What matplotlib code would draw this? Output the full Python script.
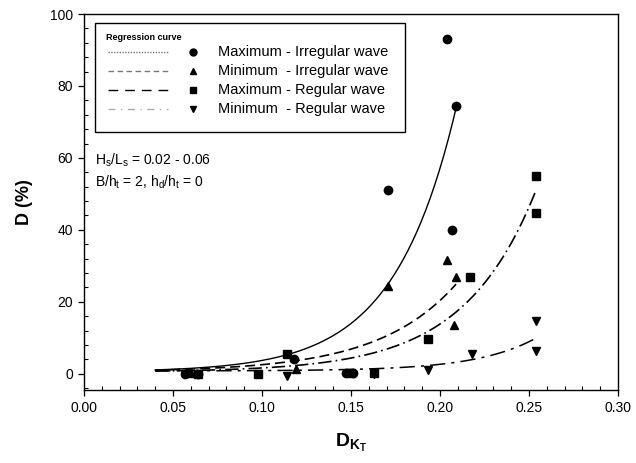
import matplotlib
matplotlib.use("Agg")
import matplotlib.pyplot as plt
import numpy as np
from matplotlib.patches import Rectangle
from matplotlib.ticker import MultipleLocator

plt.rcParams['font.family'] = ['Liberation Sans', 'DejaVu Sans']
plt.rcParams['mathtext.fontset'] = 'custom'
plt.rcParams['mathtext.rm'] = 'Liberation Sans'
plt.rcParams['mathtext.it'] = 'Liberation Sans'
plt.rcParams['mathtext.bf'] = 'Liberation Sans:bold'

# ---- data ----
max_irr_x = [0.057, 0.064, 0.118, 0.147, 0.151, 0.171, 0.204, 0.207, 0.209]
max_irr_y = [0.0, 0.0, 4.0, 0.2, 0.2, 51.0, 93.0, 40.0, 74.5]

min_irr_x = [0.060, 0.119, 0.171, 0.204, 0.208, 0.209]
min_irr_y = [0.3, 1.3, 24.5, 31.5, 13.5, 27.0]

max_reg_x = [0.064, 0.098, 0.114, 0.150, 0.163, 0.193, 0.217, 0.254, 0.254]
max_reg_y = [0.0, 0.0, 5.5, 0.2, 0.2, 9.8, 26.8, 55.0, 44.7]

min_reg_x = [0.057, 0.114, 0.163, 0.193, 0.218, 0.254, 0.254]
min_reg_y = [0.0, -0.5, 0.0, 1.0, 5.5, 14.8, 6.3]

# regression curves y = c + a*exp(b*x), with their x ranges
curve_names = ["Maximum - Irregular wave", "Minimum  - Irregular wave",
               "Maximum - Regular wave", "Minimum  - Regular wave"]
curve_a = [0.182, 0.208, 0.0954, 0.00484]
curve_b = [28.7, 22.8, 24.7, 29.7]
curve_c = [0.5, 0.5, 0.5, 0.8]
curve_x0 = [0.040, 0.040, 0.040, 0.040]
curve_x1 = [0.209, 0.209, 0.254, 0.253]

x_ticks = [0.00, 0.05, 0.10, 0.15, 0.20, 0.25, 0.30]
y_ticks = [0, 20, 40, 60, 80, 100]

# ---- figure ----
W, H = 636, 463
AX_L, AX_R, AX_T, AX_B = 84, 618, 14, 390
fig = plt.figure(figsize=(W/100, H/100), dpi=100)
ax = fig.add_axes([AX_L/W, 1-AX_B/H, (AX_R-AX_L)/W, (AX_B-AX_T)/H])

def axx(px):
    return (px-AX_L)/(AX_R-AX_L)

def axy(py):
    return (AX_B-py)/(AX_B-AX_T)

styles = [dict(ls='-', lw=1.0),
          dict(ls=(0, (6, 3)), lw=1.2),
          dict(ls=(0, (8, 2.5, 1, 2.5)), lw=1.2),
          dict(ls=(0, (10, 4, 2, 4)), lw=1.1)]

for a, b, c, x0, x1, st in zip(curve_a, curve_b, curve_c, curve_x0, curve_x1, styles):
    xs = np.linspace(x0, x1, 200)
    ax.plot(xs, c + a*np.exp(b*xs), color='black', **st, zorder=2)

mk = dict(color='black', ls='none', zorder=6)
ax.plot(max_irr_x, max_irr_y, marker='o', ms=6, **mk)
ax.plot(min_irr_x, min_irr_y, marker='^', ms=6, **mk)
ax.plot(max_reg_x, max_reg_y, marker='s', ms=5.5, **mk)
ax.plot(min_reg_x, min_reg_y, marker='v', ms=6, **mk)

ax.set_xlim(0, 0.30)
ax.set_ylim(-4.5, 100)
ax.set_xticks(x_ticks)
ax.set_xticklabels([f"{v:.2f}" for v in x_ticks])
ax.set_yticks(y_ticks)
ax.xaxis.set_minor_locator(MultipleLocator(0.01))
ax.yaxis.set_minor_locator(MultipleLocator(4))
ax.tick_params(which='major', direction='out', length=4, width=0.9, labelsize=10, pad=4)
ax.tick_params(which='minor', direction='in', length=3, width=0.8)
for s in ax.spines.values():
    s.set_linewidth(1.0)

ax.set_ylabel("D (%)", fontsize=13, fontweight='bold', labelpad=12)
ax.set_xlabel(r"$\mathbf{D_{K_T}}$", fontsize=14, labelpad=12)

# annotation text
ax.text(axx(95), axy(160), r"H$_\mathrm{s}$/L$_\mathrm{s}$ = 0.02 - 0.06", transform=ax.transAxes,
        fontsize=10, va='center', ha='left')
ax.text(axx(95), axy(182), r"B/h$_\mathrm{t}$ = 2, h$_\mathrm{d}$/h$_\mathrm{t}$ = 0", transform=ax.transAxes,
        fontsize=10, va='center', ha='left')

# custom legend box
T = ax.transAxes
ax.add_patch(Rectangle((axx(95), axy(132)), axx(405)-axx(95), axy(23)-axy(132), transform=T,
                       fill=True, facecolor='white', edgecolor='black', lw=1.0, zorder=4))
ax.text(axx(106), axy(37), "Regression curve", transform=T, fontsize=6.5, fontweight='bold',
        va='center', ha='left', zorder=5)
row_y = [52, 71, 90, 109]
leg_markers = ['o', '^', 's', 'v']
leg_ls = [(0, (1, 1)), (0, (4, 2.5)), (0, (7, 5)), (0, (5, 4, 1, 4))]
leg_col = ['#777777', '#777777', 'black', '#aaaaaa']
for yv, m, ls, col, name in zip(row_y, leg_markers, leg_ls, leg_col, curve_names):
    ax.plot([axx(108), axx(168)], [axy(yv), axy(yv)], transform=T, color=col, ls=ls, lw=1.0, zorder=5)
    ax.plot([axx(193)], [axy(yv)], transform=T, marker=m, color='black', ms=5, ls='none', zorder=5)
    ax.text(axx(218), axy(yv), name, transform=T, fontsize=10.5, va='center', ha='left', zorder=5)

fig.savefig("out.png", dpi=100)
